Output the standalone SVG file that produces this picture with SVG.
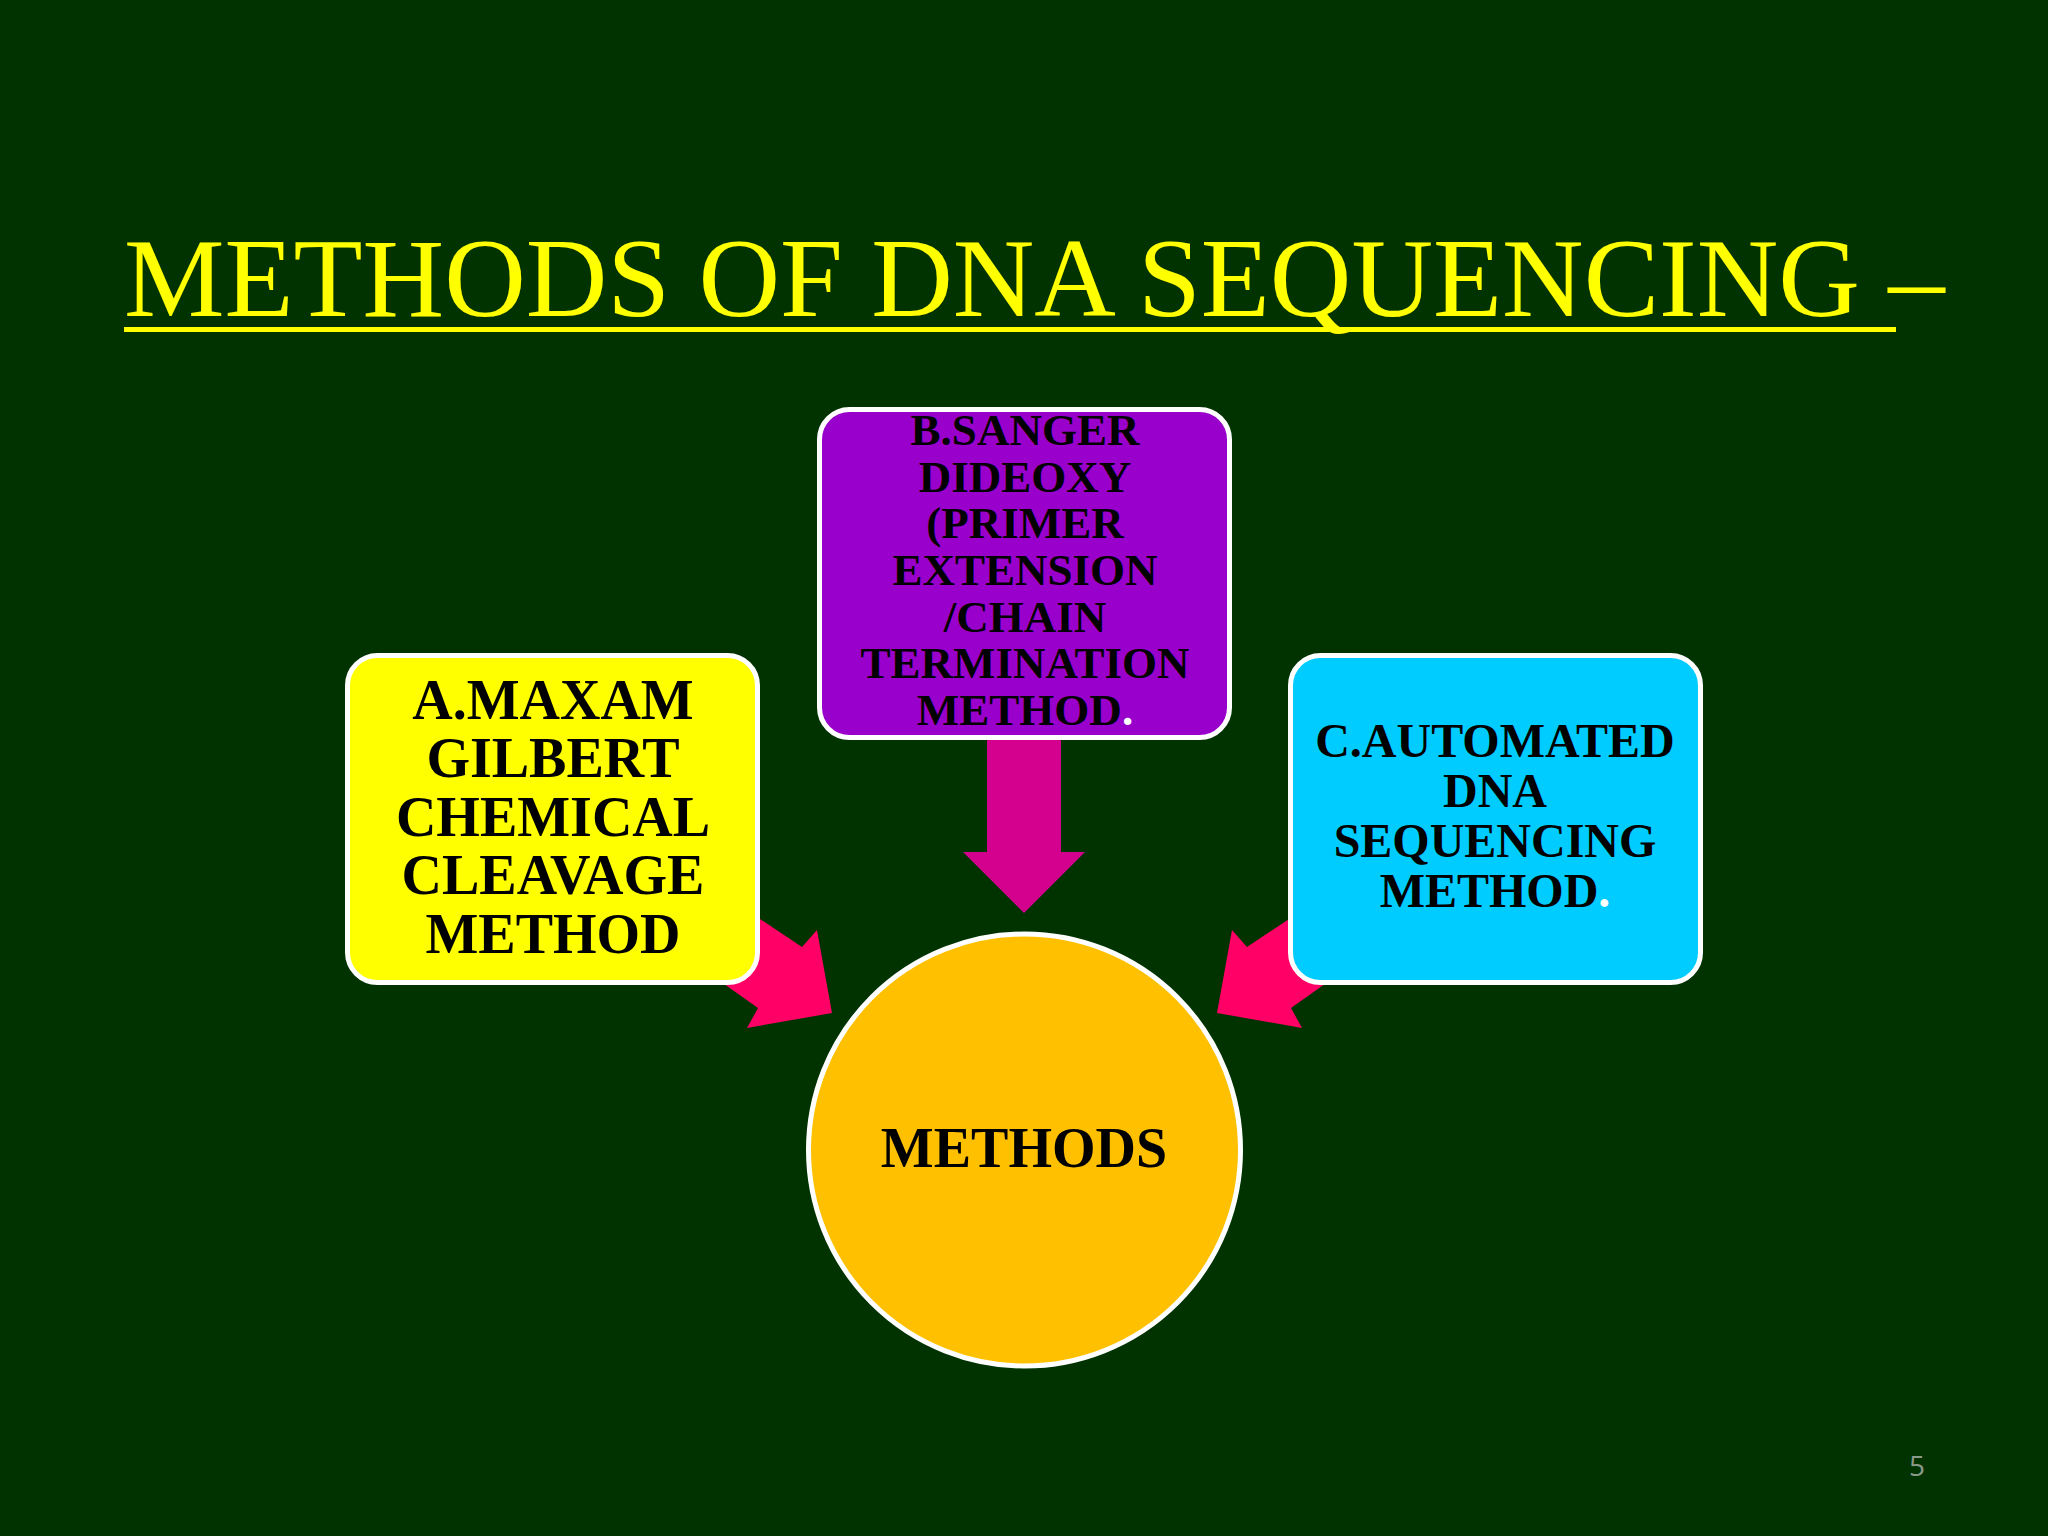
<svg xmlns="http://www.w3.org/2000/svg" width="2048" height="1536" viewBox="0 0 2048 1536">
<style>
.lbl{font-family:"Liberation Serif","Times New Roman",serif;font-weight:bold;fill:#000;text-anchor:middle}
.box{stroke:#fff;stroke-width:5}
</style>
<rect x="0" y="0" width="2048" height="1536" fill="#003300"/>
<g id="title">
<text x="124" y="316" font-family="Liberation Serif,'Times New Roman',serif" font-size="113" fill="#FFFF00">METHODS OF DNA SEQUENCING –</text>
<rect x="124" y="327" width="1772" height="5" fill="#FFFF00"/>
</g>
<g id="connectors">
<polygon fill="#D4008E" points="987,738 1061,738 1061,852 1085,852 1024,913 963,852 987,852"/>
<polygon fill="#FF0066" points="694,875 802,947 817,930 832,1013 747,1028 758,1008 662,940"/>
<polygon fill="#FF0066" points="1355,875 1247,947 1232,930 1217,1013 1302,1028 1291,1008 1387,940"/>
</g>
<g id="node-a">
<rect class="box" x="347.5" y="655.5" width="410" height="327" rx="30" fill="#FFFF00"/>
<text class="lbl" font-size="56"><tspan x="553" y="719">A.MAXAM</tspan><tspan x="553" y="777">GILBERT</tspan><tspan x="553" y="836">CHEMICAL</tspan><tspan x="553" y="894">CLEAVAGE</tspan><tspan x="553" y="953">METHOD</tspan></text>
</g>
<g id="node-b">
<rect class="box" x="819.5" y="409.5" width="410" height="328" rx="30" fill="#9900CC"/>
<text class="lbl" font-size="45"><tspan x="1025" y="445">B.SANGER</tspan><tspan x="1025" y="492">DIDEOXY</tspan><tspan x="1025" y="538">(PRIMER</tspan><tspan x="1025" y="585">EXTENSION</tspan><tspan x="1025" y="632">/CHAIN</tspan><tspan x="1025" y="678">TERMINATION</tspan><tspan x="1025" y="725">METHOD<tspan fill="#fff">.</tspan></tspan></text>
</g>
<g id="node-c">
<rect class="box" x="1290.5" y="655.5" width="410" height="327" rx="30" fill="#00CCFF"/>
<text class="lbl" font-size="48"><tspan x="1495" y="757">C.AUTOMATED</tspan><tspan x="1495" y="807">DNA</tspan><tspan x="1495" y="857">SEQUENCING</tspan><tspan x="1495" y="907">METHOD<tspan fill="#fff">.</tspan></tspan></text>
</g>
<g id="node-methods">
<circle class="box" cx="1024.5" cy="1150" r="216" fill="#FFC000"/>
<text class="lbl" x="1024" y="1167" font-size="56">METHODS</text>
</g>
<text x="1917" y="1476" font-family="Open Sans,Liberation Sans,sans-serif" font-size="28" fill="#8A9A8A" text-anchor="middle">5</text>
</svg>
